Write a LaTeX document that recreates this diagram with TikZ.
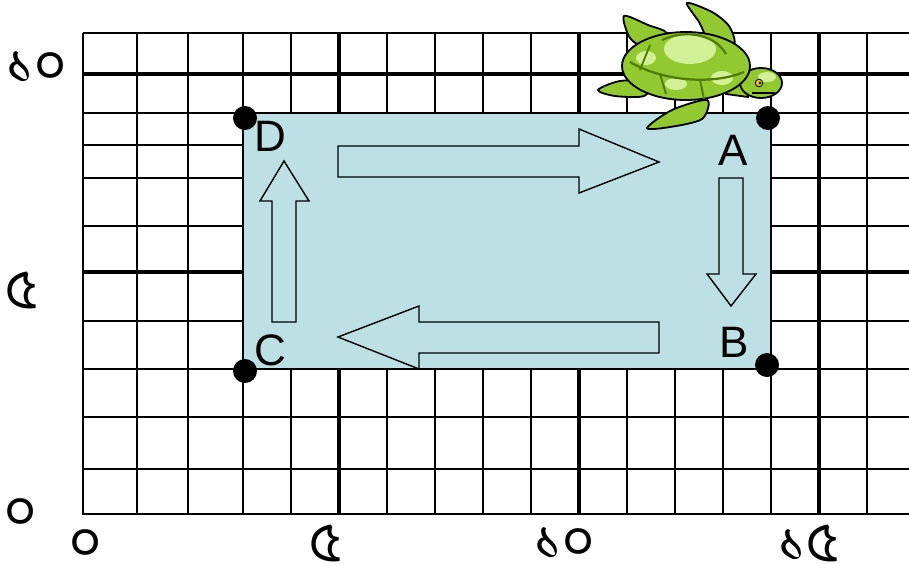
\documentclass[tikz,border=0pt]{standalone}
\usepackage{fontspec}
\setmainfont{Liberation Sans}
\newfontfamily\bengalifont[Script=Bengali]{Hind Siliguri}
\definecolor{pathfill}{HTML}{BCE0E3}
\definecolor{shellgreen}{HTML}{92C830}
\definecolor{shelllight}{HTML}{D2F096}
\definecolor{shelldark}{HTML}{4F7A00}
\definecolor{eyeyellow}{HTML}{E8C020}
\begin{document}
\begin{tikzpicture}[x=1pt,y=1pt]
    \tikzstyle{every node}+=[inner sep=0pt]
    \tikzstyle{thin grid}=[black,line width=1.6pt]
    \tikzstyle{thick grid}=[black,line width=4.5pt]
    \tikzstyle{corner}=[circle,fill=black,minimum size=24pt]
    \tikzstyle{corner label}=[font=\fontsize{44}{48}\selectfont]
    \tikzstyle{axis label}=[font=\bengalifont\fontsize{56}{60}\selectfont]
    \tikzstyle{block arrow}=[black,line width=1.4pt,fill=pathfill,line join=miter]
    \tikzstyle{turtle}=[draw=black,line width=1.8pt]
    \useasboundingbox (0,0) rectangle (909,-563);
    \foreach \x in {137,188,243,291,387,435,483,531,627,675,723,771,867}
      \draw [thin grid] (\x,-33) -- (\x,-514);
    \foreach \y in {113,145,178,226,321,369,417,469}
      \draw [thin grid] (83,-\y) -- (909,-\y);
    \foreach \x in {339,579,819}
      \draw [thick grid] (\x,-33) -- (\x,-514);
    \foreach \y in {74,272}
      \draw [thick grid] (83,-\y) -- (909,-\y);
    \draw [black,line width=1.6pt] (909,-33) -- (83,-33);
    \draw [black,line width=2.6pt] (83,-33) -- (83,-514) -- (909,-514);
    \draw [black,line width=1.6pt,fill=pathfill] (243,-113) rectangle (771,-369);
    \draw [block arrow] (338,-146) -- (579,-146) -- (579,-129) -- (659,-162)
      -- (579,-193) -- (579,-177) -- (338,-177) -- cycle;
    \draw [block arrow] (719,-178) -- (743,-178) -- (743,-274) -- (756,-274)
      -- (731,-306) -- (707,-274) -- (719,-274) -- cycle;
    \draw [block arrow] (659,-322) -- (659,-353) -- (419,-353) -- (419,-369)
      -- (338,-337) -- (419,-306) -- (419,-322) -- cycle;
    \draw [block arrow] (272,-322) -- (272,-201) -- (260,-201) -- (284,-161)
      -- (309,-201) -- (296,-201) -- (296,-322) -- cycle;
    \node [corner] (D) at (245,-118) {};
    \node [corner] (A) at (768,-118) {};
    \node [corner] (B) at (767,-365) {};
    \node [corner] (C) at (245,-371) {};
    \node [corner label] (labelD) at (270,-136) {D};
    \node [corner label] (labelA) at (733,-150) {A};
    \node [corner label] (labelB) at (734,-342) {B};
    \node [corner label] (labelC) at (270,-350) {C};
    \node [axis label] (y10) at (37,-67) {১০};
    \node [axis label] (y5) at (22,-290) {৫};
    \node [axis label] (y0) at (21,-514) {০};
    \node [axis label] (x0) at (86,-545) {০};
    \node [axis label] (x5) at (326,-543) {৫};
    \node [axis label] (x10) at (565,-543) {১০};
    \node [axis label] (x15) at (809,-543) {১৫};
    \filldraw [turtle,fill=shellgreen] plot [smooth cycle] coordinates
      {(598,-90) (620,-81) (650,-82) (644,-96) (615,-96)};
    \filldraw [turtle,fill=shellgreen] plot [smooth cycle] coordinates
      {(624,-16) (648,-25) (666,-33) (646,-47) (630,-38)};
    \filldraw [turtle,fill=shellgreen] plot [smooth cycle] coordinates
      {(687,-3) (712,-12) (729,-26) (734,-44) (712,-45) (699,-22)};
    \filldraw [turtle,fill=shellgreen] plot [smooth cycle] coordinates
      {(647,-128) (672,-110) (707,-100) (702,-119) (670,-127)};
    \filldraw [turtle,fill=shellgreen] (726,-70) -- (746,-71) -- (748,-97) -- (726,-94) -- cycle;
    \filldraw [turtle,fill=shellgreen] (761,-83) ellipse [x radius=21,y radius=15];
    \filldraw [turtle,fill=shellgreen] (686,-66) ellipse [x radius=64,y radius=34];
    \fill [shelllight] (690,-49) ellipse [x radius=26,y radius=15];
    \fill [shelllight] (646,-58) ellipse [x radius=10,y radius=7];
    \fill [shelllight] (722,-78) ellipse [x radius=11,y radius=7];
    \fill [shelllight] (676,-84) ellipse [x radius=11,y radius=6];
    \fill [shelllight] (767,-77) ellipse [x radius=9,y radius=5];
    \draw [shelldark,line width=2.2pt] (630,-62) .. controls (660,-80) and (710,-86) .. (744,-72);
    \draw [shelldark,line width=2.2pt] (662,-40) .. controls (688,-28) and (716,-36) .. (726,-54);
    \draw [shelldark,line width=1.8pt] (660,-74) -- (666,-94);
    \draw [shelldark,line width=1.8pt] (700,-80) -- (704,-99);
    \draw [shelldark,line width=1.8pt] (650,-45) -- (640,-70);
    \filldraw [black,fill=eyeyellow,line width=0.8pt] (759,-83) circle (3.8);
    \fill [black] (760,-83) circle (1.4);
    \draw [black,line width=1.2pt] (752,-93) -- (775,-93);
\end{tikzpicture}
\end{document}
